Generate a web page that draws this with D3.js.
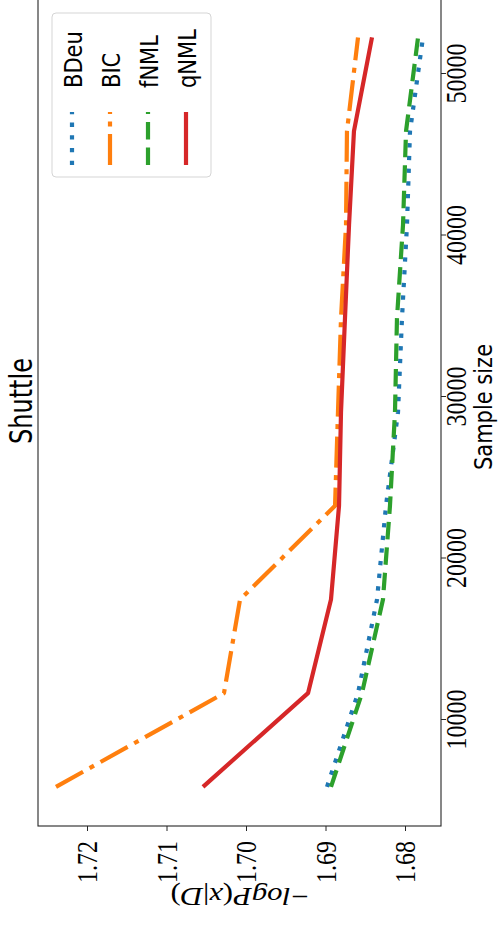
<!DOCTYPE html>
<html>
<head>
<meta charset="utf-8">
<script src="https://cdn.jsdelivr.net/npm/d3@7"></script>
<style>
  html, body { margin: 0; padding: 0; background: #fff; }
  svg { display: block; }
</style>
</head>
<body>
<svg id="chart" width="502" height="926"></svg>
<script>
// ---- data ----
const sampleSizes = [5800, 11600, 17400, 23200, 29000, 34800, 40600, 46400, 52200];
const bdeu = [1.68981, 1.68591, 1.68352, 1.68239, 1.68088, 1.68038, 1.67975, 1.67937, 1.67774];
const bic  = [1.72390, 1.70277, 1.70075, 1.68880, 1.68843, 1.68805, 1.68742, 1.68730, 1.68591];
const fnml = [1.68931, 1.68541, 1.68277, 1.68189, 1.68126, 1.68101, 1.68025, 1.67987, 1.67836];
const qnml = [1.70541, 1.69220, 1.68931, 1.68830, 1.68805, 1.68755, 1.68704, 1.68642, 1.68415];
const seriesNames = ["BDeu", "BIC", "fNML", "qNML"];
const valueTicks = [1.68, 1.69, 1.70, 1.71, 1.72];
const sizeTicks = [10000, 20000, 30000, 40000, 50000];
const titleText = "Shuttle";
const sizeLabel = "Sample size";

// ---- styles ----
const colors = ["#1f77b4", "#ff7f0e", "#2ca02c", "#d62728"];
const dashes = ["4.3 8.4", "31 7.5 5 7.5", "17.5 8", null];
const seriesData = [bdeu, bic, fnml, qnml];

const svg = d3.select("#chart");

// Plot frame (picture coordinates: chart is rotated 90deg CCW)
const frame = { left: 38, right: 441, top: -6, bottom: 826 };

// value axis runs horizontally (larger values to the left)
const vScale = d3.scaleLinear().domain([1.68, 1.72]).range([405, 87]);
// sample size axis runs vertically (larger sizes upward)
const sScale = d3.scaleLinear().domain([10000, 50000]).range([719, 73]);

const K = 1.2; // glyph stretch

// lines
const line = d3.line()
  .x(d => vScale(d.v))
  .y(d => sScale(d.s));

seriesData.forEach((vals, i) => {
  const pts = sampleSizes.map((s, j) => ({ s, v: vals[j] }));
  const p = svg.append("path")
    .datum(pts)
    .attr("d", line)
    .attr("fill", "none")
    .attr("stroke", colors[i])
    .attr("stroke-width", 4.2)
    .attr("stroke-linejoin", "round")
    .attr("stroke-linecap", "butt");
  if (dashes[i]) p.attr("stroke-dasharray", dashes[i]);
});

// frame
svg.append("rect")
  .attr("x", frame.left).attr("y", frame.top)
  .attr("width", frame.right - frame.left)
  .attr("height", frame.bottom - frame.top)
  .attr("fill", "none").attr("stroke", "#262626").attr("stroke-width", 1.1);

// value axis at bottom
const vAxis = d3.axisBottom(vScale)
  .tickValues(valueTicks)
  .tickSize(5)
  .tickFormat(d3.format(".2f"));
const gv = svg.append("g").attr("transform", `translate(0,${frame.bottom})`).call(vAxis);
gv.select(".domain").remove();
gv.selectAll(".tick line").attr("stroke", "#262626").attr("stroke-width", 1);
gv.selectAll(".tick text")
  .attr("x", null).attr("y", null).attr("dy", null)
  .attr("fill", "#000")
  .attr("font-family", "'Liberation Serif', serif")
  .attr("font-size", 24)
  .attr("text-anchor", "end")
  .attr("transform", `translate(9.5,15) rotate(-90) scale(1,${K})`);

// size axis at right
const sAxis = d3.axisRight(sScale)
  .tickValues(sizeTicks)
  .tickSize(5)
  .tickFormat(d3.format("d"));
const gs = svg.append("g").attr("transform", `translate(${frame.right},0)`).call(sAxis);
gs.select(".domain").remove();
gs.selectAll(".tick line").attr("stroke", "#262626").attr("stroke-width", 1);
gs.selectAll(".tick text")
  .attr("x", null).attr("y", null).attr("dy", null)
  .attr("fill", "#000")
  .attr("font-family", "'Liberation Serif', serif")
  .attr("font-size", 24)
  .attr("text-anchor", "middle")
  .attr("transform", `translate(25,0) rotate(-90) scale(1,${K})`);

const midY = (frame.top + frame.bottom) / 2 - 3;

// title
svg.append("text")
  .attr("transform", `translate(32,${midY - 6}) rotate(-90) scale(1,1.3)`)
  .attr("text-anchor", "middle")
  .attr("font-family", "'DejaVu Sans', sans-serif")
  .attr("font-size", 24)
  .attr("fill", "#000")
  .text(titleText);

// sample size label
svg.append("text")
  .attr("transform", `translate(492,${midY}) rotate(-90) scale(1,${K})`)
  .attr("text-anchor", "middle")
  .attr("font-family", "'DejaVu Sans', sans-serif")
  .attr("font-size", 21)
  .attr("fill", "#000")
  .text(sizeLabel);

// value label (upside down)
const yl = svg.append("text")
  .attr("transform", `translate(${(frame.left + frame.right) / 2},888) rotate(180) scale(${K},1)`)
  .attr("text-anchor", "middle")
  .attr("font-family", "'Liberation Serif', serif")
  .attr("font-size", 25.6)
  .attr("fill", "#000");
yl.append("tspan").text("\u2212");
yl.append("tspan").attr("font-style", "italic").text("logP");
yl.append("tspan").text("(");
yl.append("tspan").attr("font-style", "italic").text("x");
yl.append("tspan").text("|");
yl.append("tspan").attr("font-style", "italic").text("D");
yl.append("tspan").text(")");

// legend
const lg = svg.append("g");
lg.append("rect")
  .attr("x", 52).attr("y", 13).attr("width", 159).attr("height", 164)
  .attr("rx", 4).attr("ry", 4)
  .attr("fill", "#fff").attr("fill-opacity", 0.85)
  .attr("stroke", "#d5d5d5").attr("stroke-width", 1);
const legendX = d3.scalePoint().domain(seriesNames).range([72, 186]);
seriesNames.forEach((name, i) => {
  const cx = legendX(name);
  const l = lg.append("line")
    .attr("x1", cx).attr("x2", cx)
    .attr("y1", 165).attr("y2", 112)
    .attr("stroke", colors[i]).attr("stroke-width", 4.2)
    .attr("stroke-linecap", "butt");
  if (dashes[i]) l.attr("stroke-dasharray", dashes[i]);
  lg.append("text")
    .attr("transform", `translate(${cx + 9.7},88) rotate(-90) scale(1,${K})`)
    .attr("text-anchor", "start")
    .attr("font-family", "'DejaVu Sans', sans-serif")
    .attr("font-size", 21)
    .attr("fill", "#000")
    .text(name);
});
</script>
</body>
</html>
